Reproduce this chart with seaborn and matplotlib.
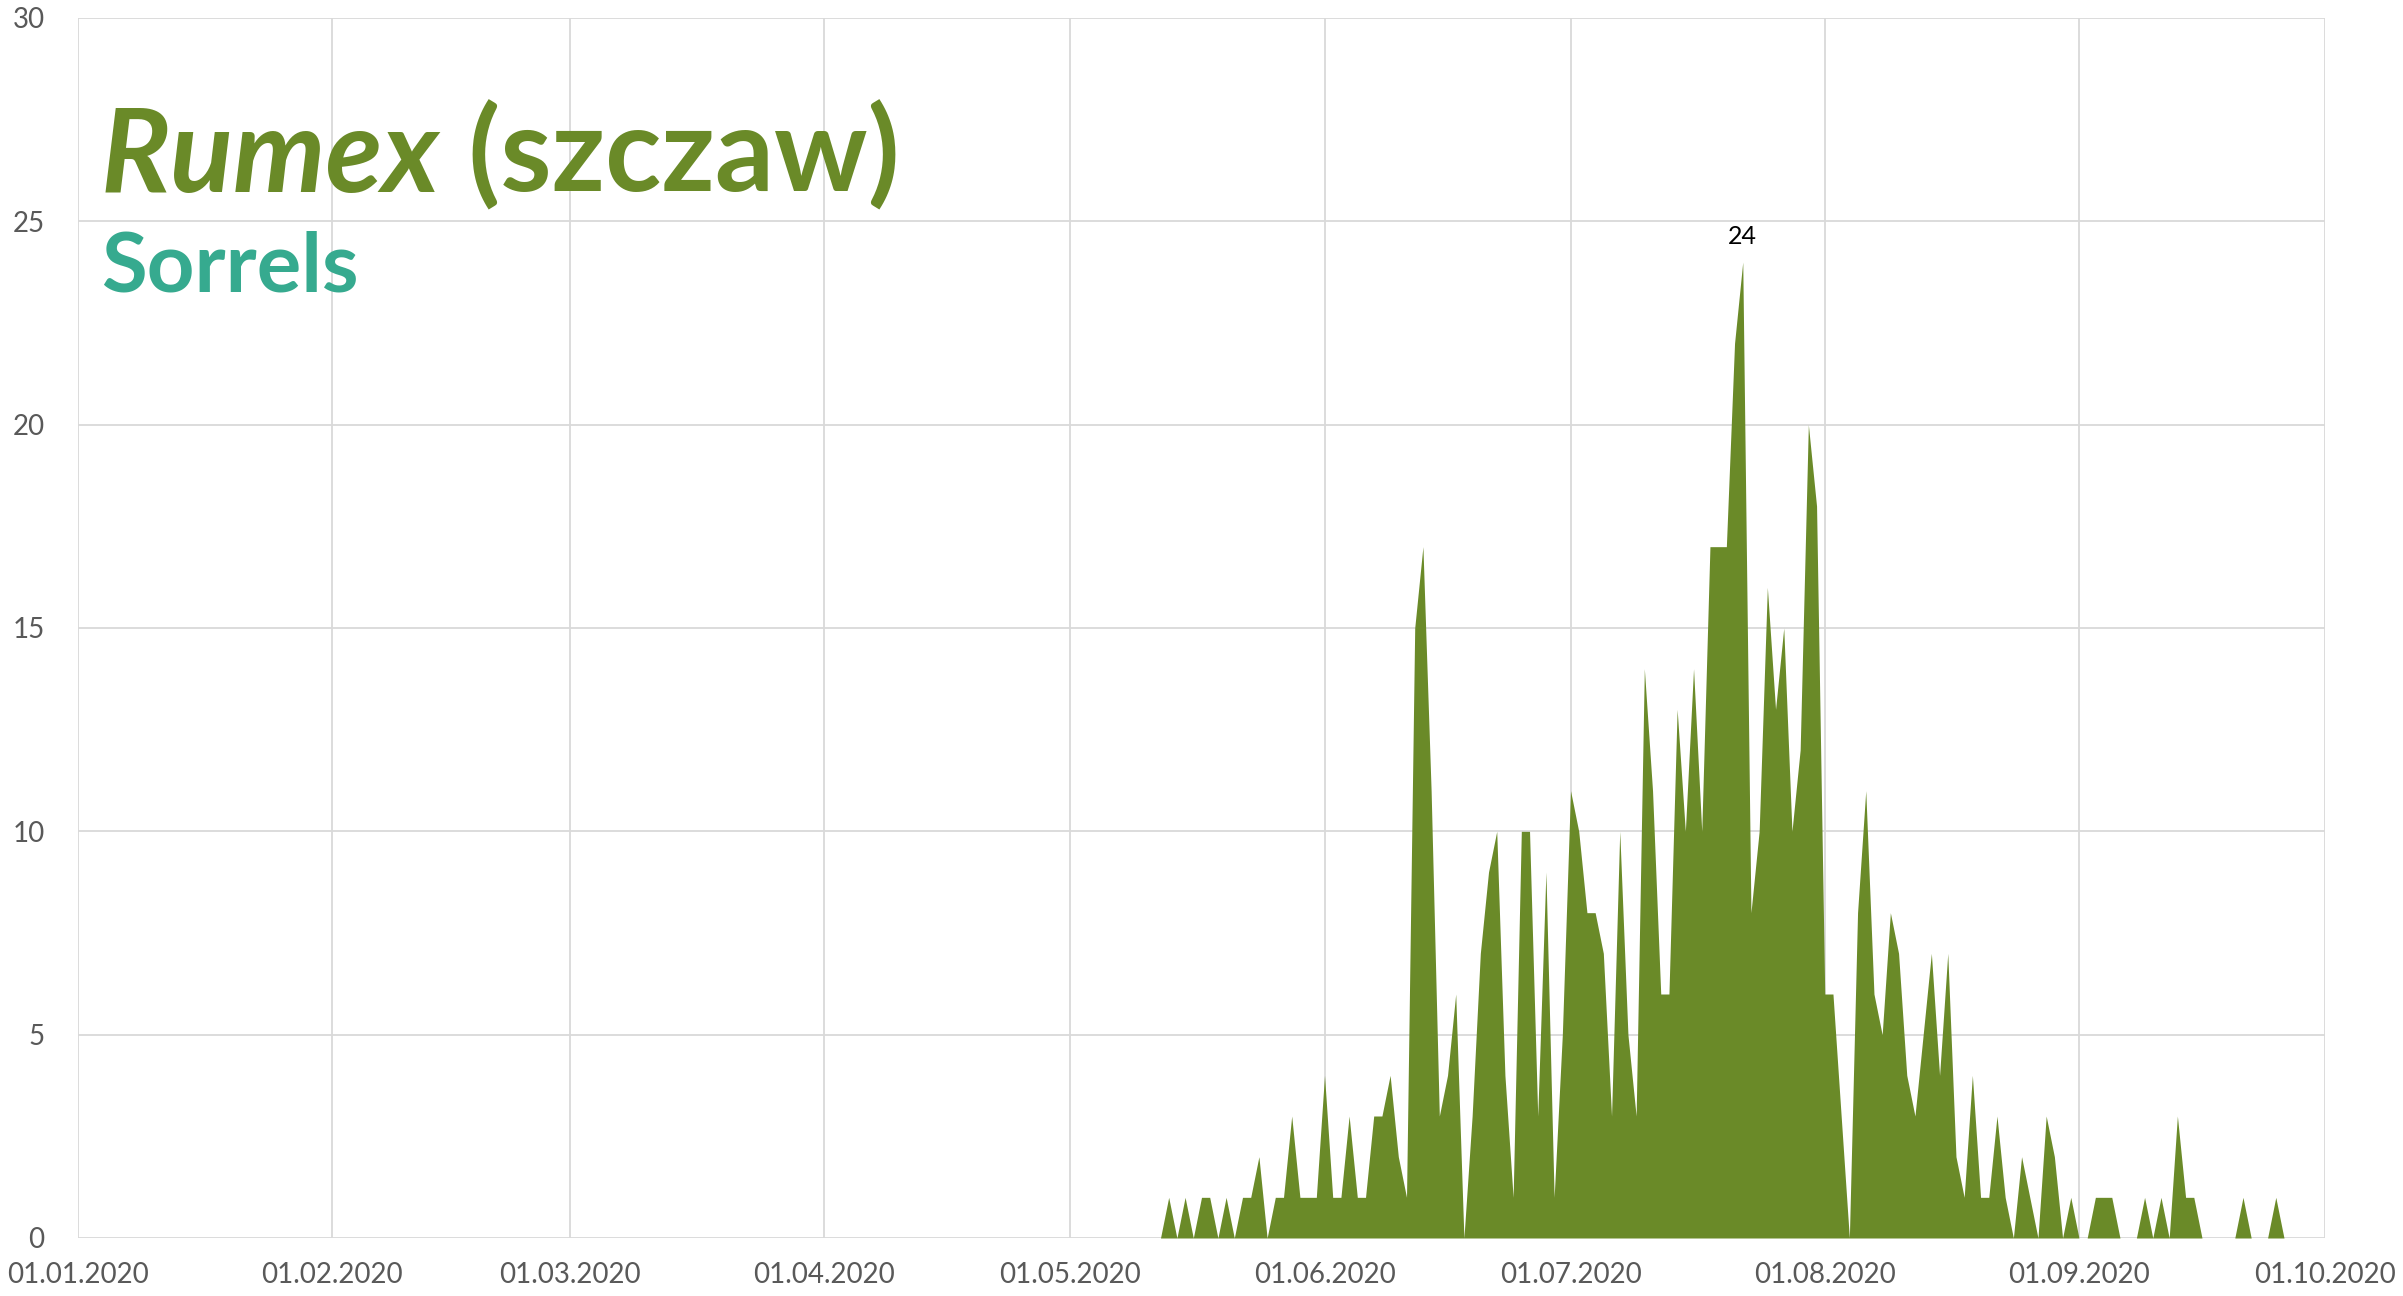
import numpy as np
import pandas as pd
import matplotlib
matplotlib.use("Agg")
import matplotlib.pyplot as plt
import matplotlib.dates as mdates
import seaborn as sns

# ---- data ----
axis_start = "2020-01-01"
axis_end = "2020-10-01"
season_start = "2020-05-12"
season_values = [
    0, 1, 0, 1, 0, 1, 1, 0, 1, 0, 1, 1, 2, 0, 1, 1, 3, 1, 1, 1,   # 12.05 - 31.05
    4, 1, 1, 3, 1, 1, 3, 3, 4, 2, 1, 15, 17, 11, 3, 4, 6, 0, 3, 7,  # 01.06 - 20.06
    9, 10, 4, 1, 10, 10, 3, 9, 1, 5,                                # 21.06 - 30.06
    11, 10, 8, 8, 7, 3, 10, 5, 3, 14, 11, 6, 6, 13, 10, 14, 10, 17, 17, 17,  # 01.07 - 20.07
    22, 24, 8, 10, 16, 13, 15, 10, 12, 20, 18,                      # 21.07 - 31.07
    6, 6, 3, 0, 8, 11, 6, 5, 8, 7, 4, 3, 5, 7, 4, 7, 2, 1, 4, 1,   # 01.08 - 20.08
    1, 3, 1, 0, 2, 1, 0, 3, 2, 0, 1,                                # 21.08 - 31.08
    0, 0, 1, 1, 1, 0, 0, 0, 1, 0, 1, 0, 3, 1, 1, 0, 0, 0, 0, 0,     # 01.09 - 20.09
    1, 0, 0, 0, 1, 0,                                               # 21.09 - 26.09
]
peak_label = "24"
title_latin = "Rumex"
title_local = " (szczaw)"
subtitle = "Sorrels"
y_ticks = [0, 5, 10, 15, 20, 25, 30]

dates = pd.date_range(axis_start, axis_end, freq="D")
season_dates = pd.date_range(season_start, periods=len(season_values), freq="D")
series = pd.Series(0.0, index=dates)
series.loc[season_dates] = season_values
df = pd.DataFrame({"date": series.index, "value": series.values})

# ---- style ----
GREEN = "#6a8a28"
TEAL = "#36aa8f"
GRID = "#d9d9d9"
TICK = "#595959"

sns.set_theme(style="white")
plt.rcParams["font.family"] = ["Lato", "DejaVu Sans"]

fig = plt.figure(figsize=(24.03, 12.96), dpi=100)
ax = fig.add_axes([78 / 2403, 1 - 1238 / 1296, (2325 - 78) / 2403, (1238 - 18) / 1296])

sns.lineplot(data=df, x="date", y="value", ax=ax, color=GREEN, linewidth=0)
ax.fill_between(df["date"], 0, df["value"], color=GREEN, linewidth=0)

ax.set_xlim(pd.Timestamp(axis_start), pd.Timestamp(axis_end))
ax.set_ylim(0, 30)
ax.set_yticks(y_ticks)
ax.xaxis.set_major_locator(mdates.MonthLocator())
ax.xaxis.set_major_formatter(mdates.DateFormatter("%d.%m.%Y"))
ax.grid(True, color=GRID, linewidth=1.3)
ax.set_axisbelow(True)
for s in ax.spines.values():
    s.set_visible(False)
ax.tick_params(axis="both", length=0, colors=TICK, labelsize=20)
ax.tick_params(axis="x", pad=17)
ax.tick_params(axis="y", pad=24)
ax.set_xlabel("")
ax.set_ylabel("")

# peak label
peak_idx = df["value"].idxmax()
ax.annotate(peak_label, (df.loc[peak_idx, "date"], df.loc[peak_idx, "value"]),
            xytext=(0, 10), textcoords="offset points", ha="center", va="bottom",
            fontsize=18, color="black")

# titles
t1 = fig.text(101 / 2403, 1 - 192 / 1296, title_latin, fontsize=84, fontweight="bold",
              fontstyle="italic", color=GREEN, ha="left", va="baseline")
fig.canvas.draw()
bb = t1.get_window_extent()
fig.text(bb.x1 / 2403, 1 - 192 / 1296, title_local, fontsize=84, fontweight="bold",
         color=GREEN, ha="left", va="baseline")
fig.text(101 / 2403, 1 - 292 / 1296, subtitle, fontsize=60, fontweight="bold",
         color=TEAL, ha="left", va="baseline")

fig.savefig("out.png", dpi=100)
